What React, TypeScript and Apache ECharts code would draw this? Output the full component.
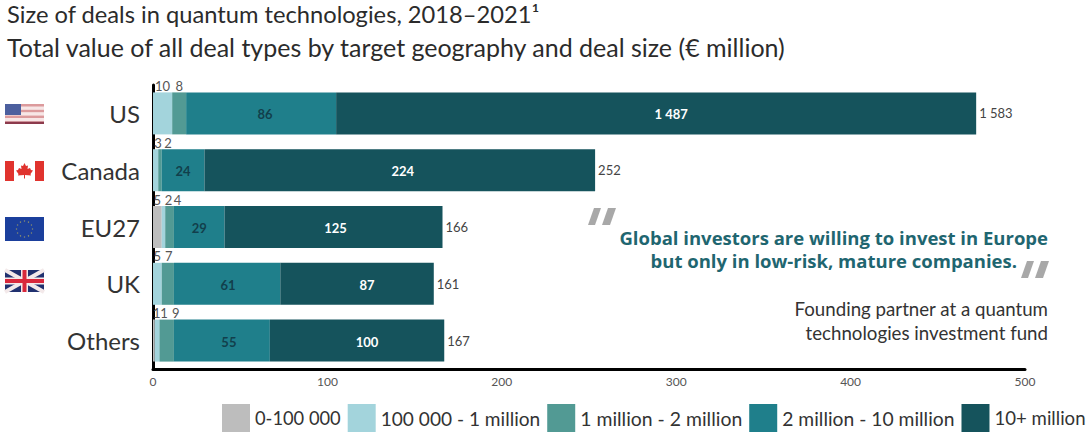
import React, { useEffect, useRef } from "react";
import * as echarts from "echarts";

const FONT = "Lato";
const categories = ["US", "Canada", "EU27", "UK", "Others"];
const legendNames = ["0-100 000", "100 000 - 1 million", "1 million - 2 million", "2 million - 10 million", "10+ million"];
const legendFontSizes = [18.3, 19.1, 19.4, 19.3, 18.6];
const colors = ["#bdbdbd", "#a3d4dc", "#529a94", "#1f7f8b", "#15535c"];

// Bar lengths as read against the axis (the US 10+ bar is drawn truncated in the reference)
const len0to100k = [0, 0, 5, 0, 1];
const len100kTo1m = [11, 3, 2, 5, 2.7];
const len1mTo2m = [8, 2, 5, 7, 8.3];
const len2mTo10m = [86, 24.5, 29, 61, 55];
const len10mPlus = [367, 224, 125, 88, 100];

// Printed values
const print0to100k = ["", "", "5", "", "1"];
const print100kTo1m = ["10", "3", "2", "5", "1"];
const print1mTo2m = ["8", "2", "4", "7", "9"];
const print2mTo10m = ["86", "24", "29", "61", "55"];
const print10mPlus = ["1 487", "224", "125", "87", "100"];
const printTotals = ["1 583", "252", "166", "161", "167"];

// Horizontal nudges of the labels, px
const nudge0 = [0, 0, 0, 0, 3];
const nudge1 = [0, 2.5, 5, 0, 7];
const nudge2 = [0, 8, 8, 1, 9];
const nudge3 = [4, 0, 0, 1, 7];
const nudge4 = [15, 3, 2, 10, 10];

const smallSeries = (i: number, lens: number[], printed: string[], nudge: number[]) => ({
  name: legendNames[i],
  type: "bar",
  stack: "t",
  barWidth: 42,
  itemStyle: { color: colors[i] },
  data: lens.map((v, k) => ({
    value: v,
    label: {
      show: printed[k] !== "",
      formatter: printed[k],
      position: "top",
      distance: 0,
      offset: [nudge[k], 0],
      color: "#555",
      fontSize: 13,
      fontFamily: FONT,
    },
  })),
});

const insideSeries = (i: number, lens: number[], printed: string[], nudge: number[], color: string) => ({
  name: legendNames[i],
  type: "bar",
  stack: "t",
  barWidth: 42,
  itemStyle: { color: colors[i] },
  data: lens.map((v, k) => ({
    value: v,
    label: {
      show: true,
      formatter: printed[k],
      position: "inside",
      offset: [nudge[k], 1],
      color,
      fontSize: 13,
      fontWeight: "bold",
      fontFamily: FONT,
    },
  })),
});

const flagGraphics = () => {
  const out: any[] = [];
  const rect = (x: number, y: number, w: number, h: number, fill: string) =>
    out.push({ type: "rect", shape: { x, y, width: w, height: h }, style: { fill } });
  const poly = (points: number[][], fill: string) =>
    out.push({ type: "polygon", shape: { points }, style: { fill } });
  // US
  const sh = 20 / 7;
  for (let i = 0; i < 7; i++) rect(5, 104 + i * sh, 39, sh, i % 2 === 0 ? "#dc9a9c" : "#f7e6e6");
  rect(5, 121.8, 39, 2.2, "#8c3a4c");
  rect(5, 104, 16, 11, "#4c5f9e");
  // Canada
  rect(5, 161, 9, 20, "#e0332e");
  rect(35, 161, 9, 20, "#e0332e");
  poly(
    [[24.5, 163], [26, 166], [28, 165.5], [27.5, 169], [30, 168], [31, 170], [33, 170.5], [30.5, 174], [31, 175.5], [25, 175], [25, 178.5], [24, 178.5], [24, 175], [18, 175.5], [18.5, 174], [16, 170.5], [18, 170], [19, 168], [21.5, 169], [21, 165.5], [23, 166]],
    "#e0332e"
  );
  // EU
  rect(5, 217, 39, 24, "#1b3f9c");
  for (let i = 0; i < 12; i++) {
    const a = (i * Math.PI) / 6;
    out.push({ type: "circle", shape: { cx: 24.5 + 8 * Math.cos(a), cy: 229 + 8 * Math.sin(a), r: 0.7 }, style: { fill: "#8a8f70" } });
  }
  // UK
  rect(5, 270, 39, 22, "#20306f");
  out.push({ type: "line", shape: { x1: 5, y1: 270, x2: 44, y2: 292 }, style: { stroke: "#f3e9ea", lineWidth: 4 } });
  out.push({ type: "line", shape: { x1: 44, y1: 270, x2: 5, y2: 292 }, style: { stroke: "#f3e9ea", lineWidth: 4 } });
  rect(21, 270, 7, 22, "#f3e9ea");
  rect(5, 277.5, 39, 7, "#f3e9ea");
  rect(22.5, 270, 4, 22, "#d8283c");
  rect(5, 279, 39, 4, "#d8283c");
  // quote marks
  const q = (x: number, y: number) => {
    poly([[x + 6, y], [x + 13, y], [x + 7, y + 17], [x, y + 17]], "#a8a8a8");
    poly([[x + 20, y], [x + 28, y], [x + 22, y + 17], [x + 14, y + 17]], "#a8a8a8");
  };
  q(588, 208);
  q(1021, 261);
  return out;
};

const txt = (x: number, y: number, text: string, fontSize: number, fill: string, align = "left", fontWeight = "normal", family = FONT) => ({
  type: "text",
  x,
  y,
  style: { text, fontSize, fill, fontFamily: family, fontWeight, textAlign: align, textVerticalAlign: "middle" },
});

export default function App() {
  const ref = useRef<HTMLDivElement>(null);
  useEffect(() => {
    const chart = echarts.init(ref.current!, null, { renderer: "svg" });
    chart.setOption({
      animation: false,
      backgroundColor: "#ffffff",
      grid: { left: 153, right: 61, top: 85, bottom: 64 },
      legend: {
        data: legendNames.map((name, i) => ({ name, textStyle: { fontFamily: FONT, fontSize: legendFontSizes[i], color: "#333" } })),
        left: 222,
        top: 404,
        padding: 0,
        icon: "rect",
        itemWidth: 28,
        itemHeight: 28,
        itemGap: 7,
        selectedMode: false,
      },
      xAxis: {
        type: "value",
        min: 0,
        max: 500,
        interval: 100,
        axisLine: { show: true, lineStyle: { color: "#000", width: 3 } },
        axisTick: { show: false },
        splitLine: { show: false },
        axisLabel: { color: "#555", fontSize: 12, fontFamily: FONT, margin: 6 },
      },
      yAxis: {
        type: "category",
        inverse: true,
        data: categories,
        axisLine: { show: true, lineStyle: { color: "#000", width: 3 } },
        axisTick: { show: false },
        axisLabel: { color: "#333", fontSize: 24, fontFamily: FONT, margin: 13 },
      },
      series: [
        smallSeries(0, len0to100k, print0to100k, nudge0),
        smallSeries(1, len100kTo1m, print100kTo1m, nudge1),
        smallSeries(2, len1mTo2m, print1mTo2m, nudge2),
        insideSeries(3, len2mTo10m, print2mTo10m, nudge3, "#123f4c"),
        insideSeries(4, len10mPlus, print10mPlus, nudge4, "#ffffff"),
        {
          name: "Total",
          type: "bar",
          stack: "t",
          barWidth: 42,
          itemStyle: { color: "transparent" },
          label: {
            show: true,
            position: "right",
            distance: 3,
            color: "#444",
            fontSize: 13,
            fontFamily: FONT,
            formatter: (p: any) => printTotals[p.dataIndex],
          },
          data: categories.map(() => 0),
        },
      ],
      graphic: [
        ...flagGraphics(),
        txt(7, 14, "Size of deals in quantum technologies, 2018–2021¹", 23.7, "#2b2b2b"),
        txt(7, 47, "Total value of all deal types by target geography and deal size (€ million)", 25, "#2b2b2b"),
        txt(1048, 237, "Global investors are willing to invest in Europe", 18.5, "#1f6670", "right", "bold", "Open Sans"),
        txt(1017, 260, "but only in low-risk, mature companies.", 18.5, "#1f6670", "right", "bold", "Open Sans"),
        txt(1048, 309, "Founding partner at a quantum", 18.7, "#333", "right"),
        txt(1048, 333, "technologies investment fund", 18.7, "#333", "right"),
      ],
    });
    return () => chart.dispose();
  }, []);
  return <div ref={ref} style={{ position: "absolute", left: 0, top: 0, width: 1086, height: 433 }} />;
}
